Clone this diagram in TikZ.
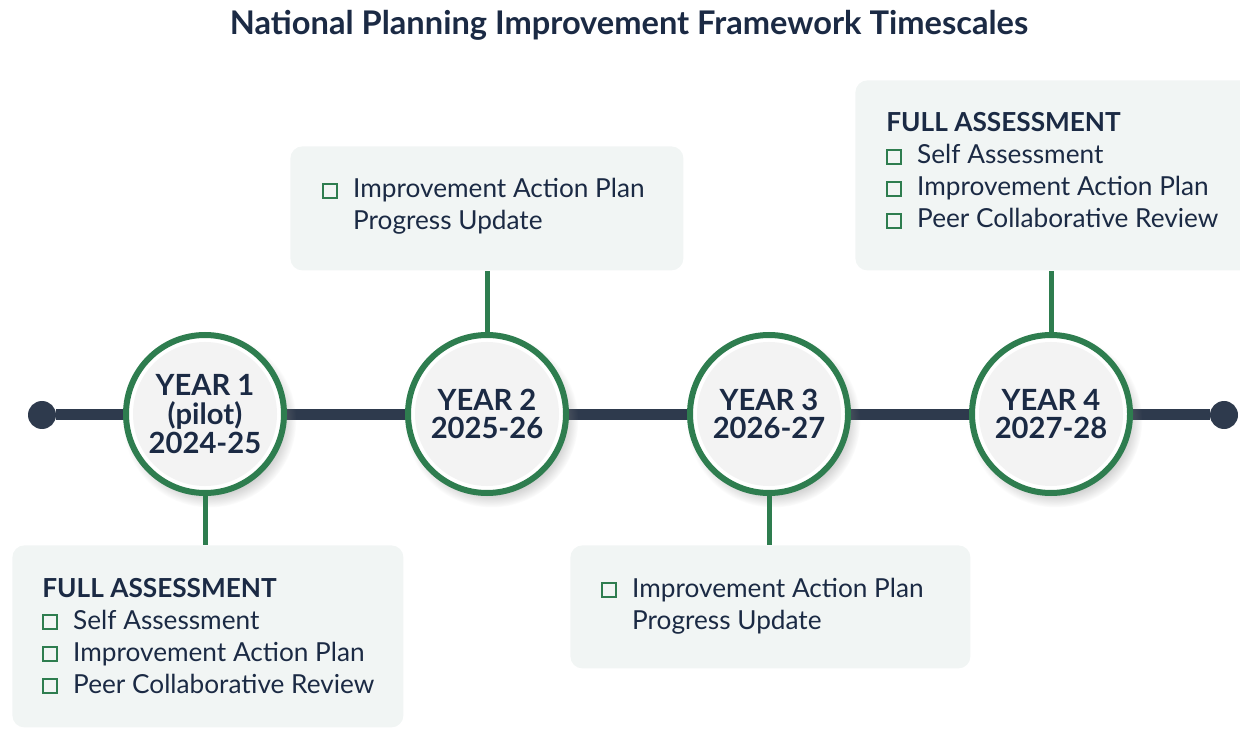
\documentclass[tikz,border=0pt]{standalone}
\usepackage{fontspec}
\setmainfont{Lato}
\usetikzlibrary{shadows,positioning}

\definecolor{navy}{HTML}{1B2A44}
\definecolor{linegrey}{HTML}{2E3A4D}
\definecolor{tlgreen}{HTML}{2E7D4F}
\definecolor{boxfill}{HTML}{F1F5F4}
\definecolor{discfill}{HTML}{F3F3F3}

\newcommand{\chkbox}{\raisebox{0.6pt}{\setlength{\fboxsep}{0pt}\setlength{\fboxrule}{0.9pt}\fcolorbox{tlgreen}{boxfill}{\rule{0pt}{6pt}\hspace{6pt}}}}

\tikzset{
	yeardisc/.style={circle, draw=tlgreen, line width=3pt, fill=white, minimum size=79pt, inner sep=0pt,
		text=navy, align=center, font=\bfseries\fontsize{14.6}{14.3}\selectfont,
		path picture={\fill[discfill] (path picture bounding box.center) circle (36pt);},
		circular drop shadow={shadow xshift=2pt, shadow yshift=-3pt, opacity=0.35}},
	enddot/.style={circle, fill=linegrey, minimum size=14pt, inner sep=0pt},
	infobox/.style={rectangle, rounded corners=6pt, fill=boxfill, anchor=north west, inner sep=0pt},
	infotext/.style={anchor=base west, inner sep=0pt, text=navy, font=\fontsize{13.1}{16}\selectfont},
	stem/.style={draw=tlgreen, line width=2.5pt}
}

\begin{document}
\begin{tikzpicture}[x=0.5pt,y=-0.5pt]
	\useasboundingbox (0,0) rectangle (1240,731);

	\node[font=\bfseries\fontsize{16.3}{19}\selectfont, text=navy] (title) at (629,25) {National Planning Improvement Framework Timescales};

	% timeline
	\node[enddot] (startdot) at (42,415) {};
	\node[enddot] (enddot) at (1224,415) {};
	\draw[linegrey, line width=5.5pt] (startdot) -- (enddot);

	\node[yeardisc] (y1) at (205,414) {YEAR 1\\(pilot)\\2024-25};
	\node[yeardisc] (y2) at (487,414) {YEAR 2\\2025-26};
	\node[yeardisc] (y3) at (769,414) {YEAR 3\\2026-27};
	\node[yeardisc] (y4) at (1051,414) {YEAR 4\\2027-28};

	% boxes
	\node[infobox, minimum width=195.5pt, minimum height=91pt] (b1) at (12,545) {};
	\node[infobox, minimum width=196.5pt, minimum height=62pt] (b2) at (290,146) {};
	\node[infobox, minimum width=200pt, minimum height=61.5pt] (b3) at (570,545) {};
	\node[infobox, minimum width=200pt, minimum height=95pt] (b4) at (855,80) {};

	\draw[stem] (y1.south) -- (y1 |- b1.north);
	\draw[stem] (y2.north) -- (y2 |- b2.south);
	\draw[stem] (y3.south) -- (y3 |- b3.north);
	\draw[stem] (y4.north) -- (y4 |- b4.south);

	% box contents
	\node[infotext] (t1) at (42,597) {\begin{tabular}[t]{@{}l@{\hspace{7.6pt}}l@{}}
		\multicolumn{2}{@{}l@{}}{\bfseries FULL ASSESSMENT}\\
		\chkbox & Self Assessment\\
		\chkbox & Improvement Action Plan\\
		\chkbox & Peer Collaborative Review
	\end{tabular}};
	\node[infotext] (t2) at (322,198) {\begin{tabular}[t]{@{}l@{\hspace{7.6pt}}l@{}}
		\chkbox & Improvement Action Plan\\
		 & Progress Update
	\end{tabular}};
	\node[infotext] (t3) at (601,597) {\begin{tabular}[t]{@{}l@{\hspace{7.6pt}}l@{}}
		\chkbox & Improvement Action Plan\\
		 & Progress Update
	\end{tabular}};
	\node[infotext] (t4) at (886,132) {\begin{tabular}[t]{@{}l@{\hspace{7.6pt}}l@{}}
		\multicolumn{2}{@{}l@{}}{\bfseries FULL ASSESSMENT}\\
		\chkbox & Self Assessment\\
		\chkbox & Improvement Action Plan\\
		\chkbox & Peer Collaborative Review
	\end{tabular}};
\end{tikzpicture}
\end{document}
